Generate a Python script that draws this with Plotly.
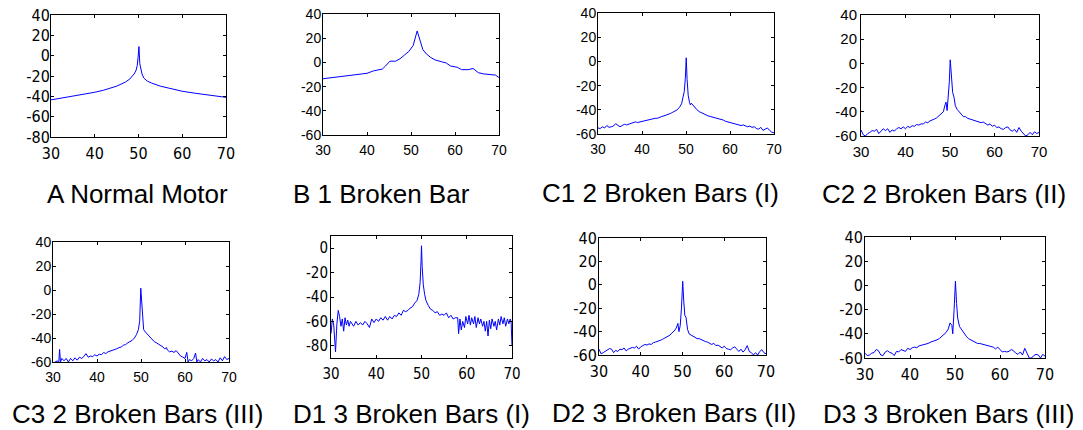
import plotly.graph_objects as go

W, H = 1083, 430

# ---------------- data ----------------
A_x = [30, 32, 35, 38, 40, 42, 44, 45, 46, 47, 48, 48.5, 49, 49.4, 49.7, 49.9, 50.1, 50.3, 50.5, 50.8, 51.2, 52, 53, 55, 57, 60, 63, 65, 67, 69, 70]
A_y = [-43.5, -42, -40, -37.5, -36, -34, -31.5, -30, -28, -26, -23, -21, -18, -15, -10, -2, 9, -8, -14, -18, -22, -25, -27, -30, -32, -35, -37, -38, -39.5, -40.5, -41]

B_x = [30, 31, 33, 35, 37.5, 39, 40, 41.5, 43.5, 44.2, 45.2, 46.5, 47.5, 48.5, 49.5, 50.5, 51.4, 52.7, 53.5, 54.5, 55.5, 57, 58, 59, 60.5, 61.5, 63, 64.1, 65.3, 66.5, 68, 69.2, 70]
B_y = [-13.5, -13, -12.5, -11.5, -10, -9.5, -9, -7, -5.5, -3, 1, 1, 3, 6, 9, 14, 26, 10.5, 7, 4, 2, 0.5, -0.5, -3, -4, -6, -6, -5, -8.5, -9.5, -10, -10.5, -12.5]

C1_x = [30, 30.5, 31, 31.5, 32, 32.5, 33, 33.5, 34, 34.5, 35, 35.5, 36, 36.5, 37, 37.5, 38, 38.5, 39, 39.5,
        40, 40.5, 41, 41.5, 42, 42.5, 43, 43.5, 44, 44.5, 45, 45.5, 46, 46.5, 47, 47.5, 48, 48.5, 49, 49.3,
        49.6, 49.85, 50.05, 50.25, 50.5, 50.8, 51, 51.2, 51.5, 52, 52.5, 53, 53.5, 54, 54.5, 55, 55.5, 56, 56.5, 57,
        57.5, 58, 58.5, 59, 59.5, 60, 60.5, 61, 61.5, 62, 62.5, 63, 63.5, 64, 64.5, 65, 65.5, 66, 66.5, 67,
        67.5, 68, 68.5, 69, 69.5, 70]
C1_y = [-55, -55.5, -54, -55, -53, -54.5, -54, -53.5, -51.5, -53, -54, -53, -52, -52.5, -52, -51.5, -51, -50, -50.5, -50,
        -50, -49, -49, -48.5, -48, -47.5, -47, -47, -46, -45.5, -45, -44.5, -43.5, -43, -42, -41, -40, -38, -35, -30,
        -25, -14, 3, -15, -28, -34, -36, -34.5, -36, -38.5, -40, -41.5, -42.5, -43.5, -44, -45, -45.5, -46, -46, -47,
        -47.5, -48, -48.5, -49.5, -50, -50.5, -51, -51.5, -51.5, -52.5, -53, -52.5, -53.5, -54, -53.5, -54.5, -54, -55.5, -56, -54.5,
        -57, -56, -55, -57, -58.5, -59]

C2_x = [30, 30.5, 31, 31.5, 32, 32.5, 33, 33.5, 34, 34.5, 35, 35.5, 36, 36.5, 37, 37.5, 38, 38.5, 39, 39.5,
        40, 40.5, 41, 41.5, 42, 42.5, 43, 43.5, 44, 44.5, 45, 45.5, 46, 46.5, 47, 47.5, 48, 48.5, 48.9, 49.1,
        49.35, 49.6, 49.85, 50.05, 50.3, 50.6, 50.9, 51.2, 51.6, 52, 52.5, 53, 53.5, 54, 54.5, 55, 55.5, 56, 56.5, 57,
        57.5, 58, 58.5, 59, 59.5, 60, 60.5, 61, 61.5, 62, 62.5, 63, 63.5, 64, 64.5, 65, 65.5, 66, 66.5, 67,
        67.5, 68, 68.5, 69, 69.5, 70]
C2_y = [-55, -59, -60, -58, -57, -55.5, -56, -54.5, -58, -56, -54, -55.5, -54, -57, -55, -56, -54, -53, -54, -52.5,
        -54, -52, -53, -51.5, -52, -50.5, -51, -50, -50, -48.5, -49, -47.5, -47, -46, -45, -43.5, -42, -40, -34, -32,
        -39, -30, -15, 3, -12, -24, -28, -35, -38, -40, -42, -44, -44, -45.5, -46, -46.5, -47, -47.5, -48.5, -49,
        -48.5, -50, -51, -50, -52, -51, -53, -52.5, -54, -54.5, -53, -52.5, -55, -56, -54.5, -57, -53, -56, -58, -60,
        -59, -57, -59, -56.5, -58, -57]

C3_x = [30, 30.5, 31, 31.3, 31.5, 31.7, 32, 32.5, 33, 33.5, 34, 34.5, 35, 35.5, 36, 36.5, 37, 37.5, 38, 38.5,
        39, 39.5, 40, 40.5, 41, 41.5, 42, 42.5, 43, 43.5, 44, 44.5, 45, 45.5, 46, 46.5, 47, 47.5, 48, 48.5,
        49, 49.4, 49.7, 49.95, 50.25, 50.6, 51, 51.5, 52, 52.5, 53, 53.5, 54, 54.5, 55, 55.4, 55.8, 56, 56.5, 57,
        57.5, 58, 58.5, 59, 59.5, 60, 60.4, 60.7, 61, 61.5, 62, 62.4, 62.7, 63, 63.5, 64, 64.5, 65, 65.5, 66,
        66.5, 67, 67.5, 68, 68.5, 69, 69.5, 70]
C3_y = [-61, -60, -59, -61, -49.5, -60, -57, -59, -57, -60, -57, -59, -56.5, -58.5, -56, -57, -55.5, -53, -56, -55,
        -55.5, -54, -55, -53.5, -54, -52, -53, -51.5, -51, -50.5, -50, -49, -48, -47.5, -46, -45.5, -44, -43, -42, -40,
        -37, -33, -26, 1.5, -20, -33, -35, -37, -39.5, -41, -43, -44, -45, -46, -47.5, -49, -48, -50, -51.5, -51,
        -52, -50.5, -53, -55, -56, -57, -52, -60, -58, -59, -57, -52.5, -60, -58, -60, -57, -59, -58, -60, -57.5,
        -59, -58, -60, -56.5, -59, -55.5, -58, -57]

D1_x = [30, 30.3, 30.6, 30.8, 31, 31.3, 31.6, 31.9, 32.2, 32.5, 32.8, 33.1, 33.4, 33.7, 34, 34.3, 34.6, 35, 35.5, 36,
        36.5, 37, 37.5, 38, 38.5, 39, 39.5, 40, 40.5, 41, 41.5, 42, 42.5, 43, 43.5, 44, 44.5, 45, 45.5, 46,
        46.5, 47, 47.5, 48, 48.5, 49, 49.4, 49.7, 49.9, 50, 50.15, 50.4, 50.7, 51, 51.5, 52, 52.5, 53, 53.5, 54,
        54.5, 55, 55.5, 56, 56.5, 57, 57.5, 58, 58.2, 58.5, 58.8, 59.1, 59.5, 59.8, 60.2, 60.5, 60.8, 61.1, 61.5, 61.8,
        62.1, 62.5, 62.8, 63.1, 63.5, 63.8, 64.1, 64.4, 64.7, 65, 65.3, 65.6, 66, 66.3, 66.6, 67, 67.3, 67.6, 68, 68.3,
        68.6, 69, 69.3, 69.6, 69.8, 70]
D1_y = [-70, -58, -63, -72, -85, -62, -51, -56, -64, -58, -68, -57, -63, -59, -64, -60, -62, -64, -60, -63,
        -61, -63, -60, -62, -65, -58, -61, -58, -60, -57, -59, -56, -59, -56, -58, -55, -56, -53, -55, -51,
        -52, -51, -49, -48, -45, -43, -38, -28, -10, 2, -15, -30, -38, -43, -47, -50, -51, -53, -52, -55,
        -54, -55, -53, -57, -55, -58, -57, -57, -70, -58, -67, -60, -65, -56, -62, -55, -63, -57, -62, -56,
        -65, -57, -62, -58, -64, -60, -68, -60, -72, -59, -66, -58, -64, -60, -67, -58, -63, -56, -62, -57,
        -64, -58, -62, -58, -60, -80]

D2_x = [30, 30.5, 31, 31.5, 32, 32.5, 33, 33.5, 34, 34.5, 35, 35.5, 36, 36.5, 37, 37.5, 38, 38.5, 39, 39.5,
        40, 40.5, 41, 41.5, 42, 42.5, 43, 43.5, 44, 44.5, 45, 45.5, 46, 46.5, 47, 47.5, 48, 48.5, 48.9, 49.15,
        49.45, 49.75, 50.05, 50.3, 50.55, 50.85, 51.2, 51.6, 52, 52.5, 53, 53.5, 54, 54.5, 55, 55.5, 56, 56.5, 57, 57.5,
        58, 58.5, 59, 59.5, 60, 60.5, 61, 61.5, 62, 62.5, 63, 63.5, 64, 64.5, 65, 65.5, 66, 66.5, 67, 67.5,
        68, 68.5, 69, 69.5, 70]
D2_y = [-55, -59, -58, -57, -56, -54.5, -55, -58, -56, -57, -55, -55.5, -54, -56.5, -55, -54.5, -53.5, -54, -52.5, -55,
        -53, -52, -51, -51.5, -50.5, -51, -49.5, -49, -48.5, -48, -47, -46, -45, -44, -43, -41, -39.5, -37, -33, -40,
        -35, -20, 3, -14, -26, -28, -38, -42, -43, -44, -45, -46, -46, -47, -48, -48.5, -49, -50, -51, -50,
        -52, -51.5, -53, -54, -52.5, -54.5, -55, -55.5, -54, -53, -55, -57, -55, -57.5, -55.5, -52, -57, -58, -60, -58,
        -60, -57, -55.5, -58, -59]

D3_x = [30, 30.5, 31, 31.5, 32, 32.5, 33, 33.5, 34, 34.5, 35, 35.5, 36, 36.5, 37, 37.5, 38, 38.5, 39, 39.5,
        40, 40.5, 41, 41.5, 42, 42.5, 43, 43.5, 44, 44.5, 45, 45.5, 46, 46.5, 47, 47.5, 48, 48.5, 48.9, 49.3,
        49.5, 49.8, 50.1, 50.35, 50.6, 51, 51.5, 52, 52.5, 53, 53.5, 54, 54.5, 55, 55.5, 56, 56.5, 57, 57.5, 58,
        58.5, 59, 59.5, 60, 60.5, 61, 61.5, 62, 62.5, 63, 63.5, 64, 64.5, 65, 65.5, 66, 66.5, 67, 67.5, 68,
        68.5, 69, 69.5, 70]
D3_y = [-56, -58, -57.5, -56, -55.5, -53, -54, -57.5, -58, -55, -54, -55.5, -56, -58, -54.5, -55, -53, -53.5, -54.5, -52,
        -53, -51.5, -51, -51.5, -50, -49.5, -49, -49, -48, -47, -46.5, -46, -45, -44, -42.5, -41, -39, -36, -31, -33,
        -40, -20, 3.5, -15, -27, -34, -37, -40, -42, -44, -45, -46, -47, -48, -48, -48.5, -49, -49, -50, -50,
        -51, -52.5, -51, -53, -55, -54.5, -55, -54.5, -53, -54, -56, -57, -55, -57.5, -52, -56, -60, -60, -58, -57,
        -57.5, -60, -57, -58.5]

titles = ["A Normal Motor", "B 1 Broken Bar", "C1 2 Broken Bars (I)", "C2 2 Broken Bars (II)",
          "C3 2 Broken Bars (III)", "D1 3 Broken Bars (I)", "D2 3 Broken Bars (II)", "D3 3 Broken Bars (III)"]
series = [(A_x, A_y), (B_x, B_y), (C1_x, C1_y), (C2_x, C2_y),
          (C3_x, C3_y), (D1_x, D1_y), (D2_x, D2_y), (D3_x, D3_y)]

x_range = (30, 70)
x_ticks = [30, 40, 50, 60, 70]
y_ticks_A = [-80, -60, -40, -20, 0, 20, 40]
y_ticks_std = [-60, -40, -20, 0, 20, 40]
y_ticks_D1 = [-80, -60, -40, -20, 0]
y_ranges = [(-80, 40), (-60, 40), (-60, 40), (-60, 40), (-60, 40), (-90, 10), (-60, 40), (-60, 40)]
y_ticks = [y_ticks_A, y_ticks_std, y_ticks_std, y_ticks_std, y_ticks_std, y_ticks_D1, y_ticks_std, y_ticks_std]

# ---------------- layout (pixel boxes) ----------------
# (left, right, top, bottom) in px, title centre (x, y), narrow font?, tick font size, y-label standoff
boxes = [
    (51, 226, 15, 137, 137, 194, True, 16, -3),
    (323, 499, 14, 135, 381, 194, False, 14, -2),
    (598, 774, 13, 134, 660, 193, False, 14, -2),
    (861, 1039, 15, 136, 944, 194, False, 15, 0),
    (53, 229, 242, 362, 137, 414, False, 14, -2),
    (331, 512, 236, 358, 411, 414, True, 15, -1),
    (599, 766, 238, 355, 674, 413, True, 16, -2),
    (865, 1045, 237, 358, 948, 414, True, 16, -2),
]

NARROW = "Liberation Sans Narrow, Arial Narrow, DejaVu Sans Condensed, Liberation Sans, Arial, sans-serif"
REG = "Liberation Sans, Arial, sans-serif"

fig = go.Figure()
layout = dict(width=W, height=H, margin=dict(l=0, r=0, t=0, b=0, autoexpand=False),
              paper_bgcolor="white", plot_bgcolor="white", showlegend=False,
              annotations=[])

for i, ((xs, ys), title, yr, yt, box) in enumerate(zip(series, titles, y_ranges, y_ticks, boxes)):
    n = i + 1
    sx = "" if n == 1 else str(n)
    l, r, t, b, tx, ty, narrow, fs, ystand = box
    fam = NARROW if narrow else REG
    fig.add_trace(go.Scatter(x=xs, y=ys, mode="lines",
                             line=dict(color="#0000ff", width=1),
                             xaxis="x" + sx, yaxis="y" + sx, hoverinfo="skip"))
    common = dict(showline=True, linecolor="black", linewidth=1, mirror="allticks",
                  ticks="inside", ticklen=3, tickcolor="black", showgrid=False,
                  zeroline=False, automargin=False,
                  tickfont=dict(family=fam, size=fs, color="black"))
    layout["xaxis" + sx] = dict(domain=[l / W, r / W], range=list(x_range),
                                tickmode="array", tickvals=x_ticks,
                                ticktext=[str(v) for v in x_ticks],
                                ticklabelstandoff=2,
                                anchor="y" + sx, **common)
    layout["yaxis" + sx] = dict(domain=[1 - b / H, 1 - t / H], range=list(yr),
                                tickmode="array", tickvals=yt,
                                ticktext=[str(v) for v in yt],
                                ticklabelstandoff=ystand,
                                anchor="x" + sx, **common)
    layout["annotations"].append(dict(text=title, x=tx / W, y=1 - ty / H,
                                      xref="paper", yref="paper", showarrow=False,
                                      xanchor="center", yanchor="middle",
                                      font=dict(family=REG, size=26, color="black")))

fig.update_layout(**layout)
fig.write_html("out.html", config={"displayModeBar": False, "staticPlot": True},
               post_script="document.body.style.margin='0px';document.body.style.padding='0px';")
